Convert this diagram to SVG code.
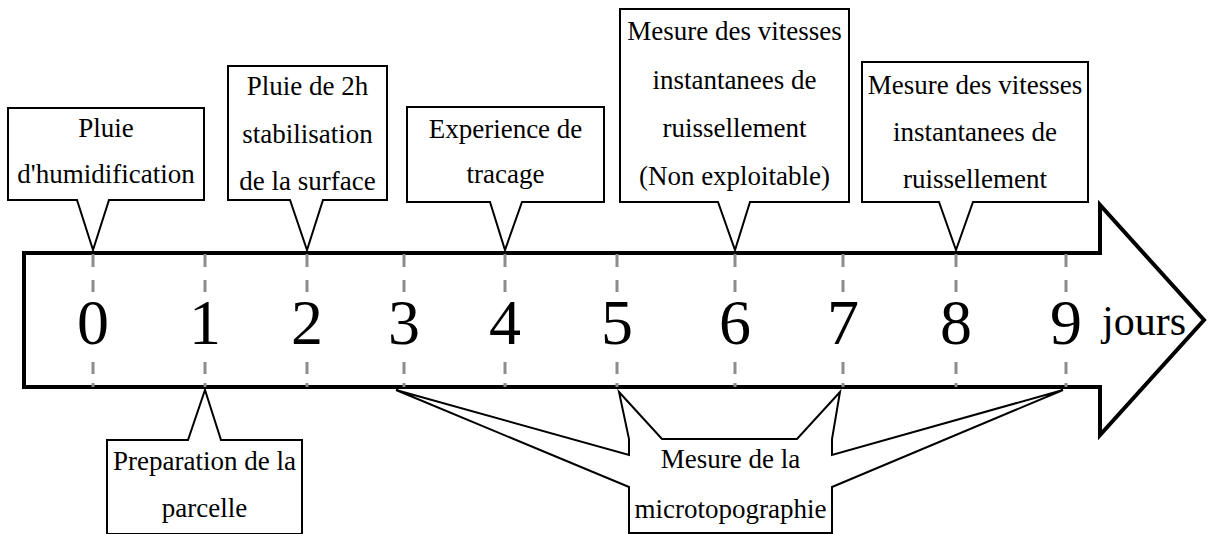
<svg xmlns="http://www.w3.org/2000/svg" width="1208" height="534" viewBox="0 0 1208 534">
<style>
text{font-family:"Liberation Serif","Times New Roman",serif;fill:#000;text-anchor:middle}
.lbl{font-size:27px}
.num{font-size:64px}
.jours{font-size:42px}
.callout{fill:#fff;stroke:#000;stroke-width:2;stroke-linejoin:miter}
.axis{fill:#fff;stroke:#000;stroke-width:4;stroke-linejoin:miter}
.tick{stroke:#8c8c8c;stroke-width:3;fill:none}
</style>
<rect width="1208" height="534" fill="#fff"/>
<g id="timeline">
<polygon class="axis" points="24,253 1100,253 1100,205 1204,320 1100,435 1100,387 24,387"/>
</g>
<g id="connectors">
<path class="tick" d="M93,254V267M93,280V292M93,362V374M93,383V387"/>
<path class="tick" d="M205,254V267M205,280V292M205,362V374M205,383V387"/>
<path class="tick" d="M307,254V267M307,280V292M307,362V374M307,383V387"/>
<path class="tick" d="M404,254V267M404,280V292M404,362V374M404,383V387"/>
<path class="tick" d="M505,254V267M505,280V292M505,362V374M505,383V387"/>
<path class="tick" d="M617,254V267M617,280V292M617,362V374M617,383V387"/>
<path class="tick" d="M735,254V267M735,280V292M735,362V374M735,383V387"/>
<path class="tick" d="M843,254V267M843,280V292M843,362V374M843,383V387"/>
<path class="tick" d="M956,254V267M956,280V292M956,362V374M956,383V387"/>
<path class="tick" d="M1066,254V267M1066,280V292M1066,362V374M1066,383V387"/>
</g>
<g id="numbers">
<text class="num" x="93" y="344">0</text>
<text class="num" x="205" y="344">1</text>
<text class="num" x="307" y="344">2</text>
<text class="num" x="404" y="344">3</text>
<text class="num" x="505" y="344">4</text>
<text class="num" x="617" y="344">5</text>
<text class="num" x="735" y="344">6</text>
<text class="num" x="843" y="344">7</text>
<text class="num" x="956" y="344">8</text>
<text class="num" x="1066" y="344">9</text>
<text class="jours" x="1144" y="335">jours</text>
</g>
<g id="n0">
<polygon class="callout" points="8,108 204,108 204,200 109,200 93,250 77,200 8,200"/>
<text class="lbl" x="106" y="137">Pluie</text>
<text class="lbl" x="106" y="183">d'humidification</text>
</g>
<g id="n2">
<polygon class="callout" points="228,66 387,66 387,200 323,200 307,250 290,200 228,200"/>
<text class="lbl" x="307.5" y="95">Pluie de 2h</text>
<text class="lbl" x="307.5" y="143">stabilisation</text>
<text class="lbl" x="307.5" y="190">de la surface</text>
</g>
<g id="n4">
<polygon class="callout" points="407,107 604,107 604,202 522,202 505,250 490,202 407,202"/>
<text class="lbl" x="505.5" y="138">Experience de</text>
<text class="lbl" x="505.5" y="183">tracage</text>
</g>
<g id="n6">
<polygon class="callout" points="620,9 849,9 849,202 750,202 735,250 718,202 620,202"/>
<text class="lbl" x="734.5" y="40">Mesure des vitesses</text>
<text class="lbl" x="734.5" y="89">instantanees de</text>
<text class="lbl" x="734.5" y="137">ruissellement</text>
<text class="lbl" x="734.5" y="185">(Non exploitable)</text>
</g>
<g id="n8">
<polygon class="callout" points="862,62 1088,62 1088,202 973,202 956,250 939,202 862,202"/>
<text class="lbl" x="975" y="94">Mesure des vitesses</text>
<text class="lbl" x="975" y="141">instantanees de</text>
<text class="lbl" x="975" y="188">ruissellement</text>
</g>
<g id="n1">
<polygon class="callout" points="107,440 188,440 205,390 221,440 302,440 302,534 107,534"/>
<text class="lbl" x="204.5" y="470">Preparation de la</text>
<text class="lbl" x="204.5" y="517">parcelle</text>
</g>
<g id="nmicro">
<polygon class="callout" points="396,390 629,455 629,439 619,392 662,439 797,439 840,392 832,439 832,455 1063,390 832,487 832,533 629,533 629,487"/>
<text class="lbl" x="730.5" y="468">Mesure de la</text>
<text class="lbl" x="730.5" y="518">microtopographie</text>
</g>
</svg>
